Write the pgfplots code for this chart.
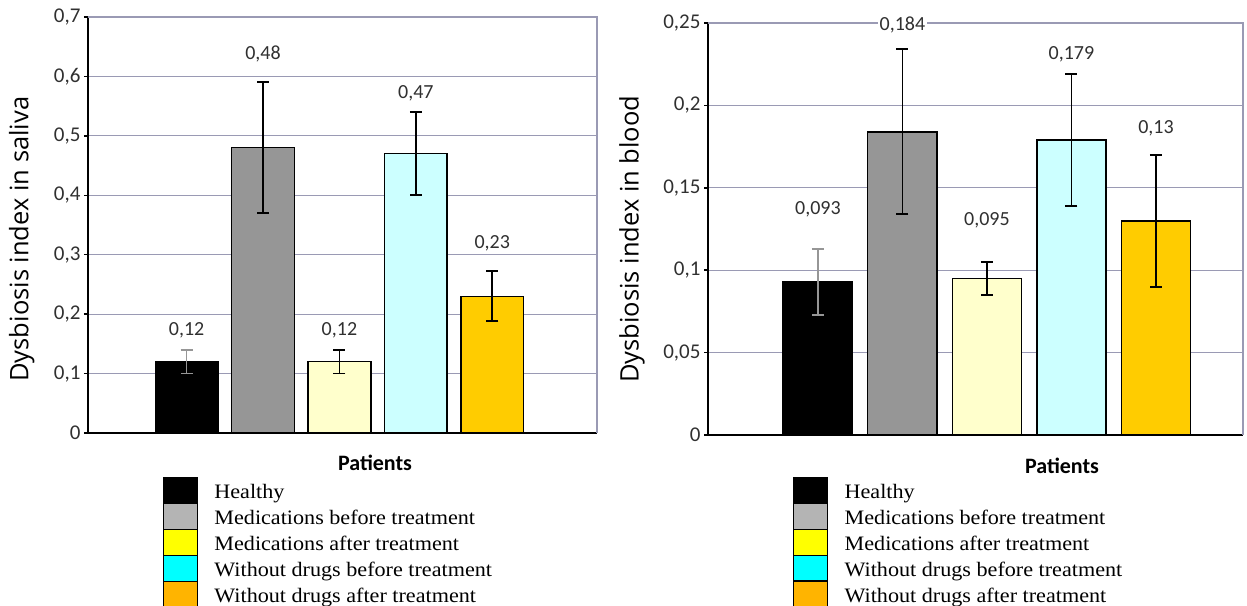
\documentclass[border=0pt]{standalone}
\usepackage{pgfplots}
\pgfplotsset{compat=1.18}
\usepackage{fontspec}
\setmainfont{Liberation Serif}
\newfontfamily\carlito{Carlito}
\newfontfamily\osans{Open Sans}
\newfontfamily\legfont[FakeStretch=1.08]{Liberation Serif}
\definecolor{gridc}{HTML}{9A9AB4}
\definecolor{txt}{HTML}{303030}
\definecolor{bgray}{HTML}{969696}
\definecolor{bcream}{HTML}{FFFFCC}
\definecolor{bcyan}{HTML}{CCFFFF}
\definecolor{borange}{HTML}{FFCC00}
\definecolor{lgray}{HTML}{B4B4B4}
\definecolor{lyellow}{HTML}{FFFF00}
\definecolor{lcyan}{HTML}{00FFFF}
\definecolor{lorange}{HTML}{FFB400}
\tikzset{vlab/.style={fill=white, inner sep=1.5pt, font=\carlito\fontsize{20}{24}\selectfont, text=txt}}
\pgfplotsset{
  mybar/.style={ybar, bar width=0.82, bar shift=0pt, draw=black, line width=1.5pt, forget plot,
    error bars/y dir=both, error bars/y explicit,
    error bars/error bar style={line width=1.8pt, black},
    error bars/error mark options={rotate=90, mark size=6pt, line width=1.8pt, black}},
  graybar/.style={error bars/error bar style={line width=1.8pt, bgray},
    error bars/error mark options={rotate=90, mark size=6pt, line width=1.8pt, bgray}},
  common/.style={scale only axis, axis x line*=bottom, axis y line*=left,
    axis line style={line width=2.5pt, black, -}, ymin=0, xtick=\empty,
    ymajorgrids, major grid style={gridc, line width=1.2pt},
    ytick style={black, line width=1.5pt}, major tick length=4pt, tick align=outside,
    yticklabel style={font=\carlito\fontsize{21}{25}\selectfont, text=txt},
    ylabel style={font=\osans\fontsize{25.5}{30}\selectfont, text=black},
    legend cell align=left,
    legend image code/.code={\fill[##1] (0pt,-10.75pt) rectangle (34pt,14.75pt);},
    clip=false},
  myleg/.style={legend style={at={#1}, anchor=north west, draw=none, fill=none,
    font=\legfont\fontsize{20.5}{25}\selectfont, row sep=0pt, column sep=17pt, inner sep=0pt,
    nodes={inner sep=0pt}}},
}
\begin{document}
\begin{tikzpicture}
\useasboundingbox (0,0) rectangle (1247pt,-605pt);
% ---------------- left: saliva
\begin{axis}[common, at={(88pt,-433pt)}, anchor=south west, width=509pt, height=416pt,
  xmin=-0.29, xmax=6.37, ymax=0.7,
  ytick={0,0.1,0.2,0.3,0.4,0.5,0.6,0.7},
  yticklabels={0,{0,1},{0,2},{0,3},{0,4},{0,5},{0,6},{0,7}},
  ylabel={Dysbiosis index in saliva},
  ylabel style={at={(axis description cs:-0.13,0.466)}, anchor=center, rotate=0},
  myleg={(0.147,-0.106)},
]
\addplot[mybar, graybar, fill=black] coordinates {(1,0.12) +- (0,0.02)};
\addplot[mybar, fill=bgray] coordinates {(2,0.48) +- (0,0.11)};
\addplot[mybar, fill=bcream] coordinates {(3,0.12) +- (0,0.02)};
\addplot[mybar, fill=bcyan] coordinates {(4,0.47) +- (0,0.07)};
\addplot[mybar, fill=borange] coordinates {(5,0.23) +- (0,0.042)};
\draw[gridc, line width=1.2pt] (rel axis cs:0,1) -- (rel axis cs:1,1) -- (rel axis cs:1,0);
\node[vlab] at (axis cs:1,0.172) {0,12};
\node[vlab] at (axis cs:2,0.637) {0,48};
\node[vlab] at (axis cs:3,0.172) {0,12};
\node[vlab] at (axis cs:4,0.572) {0,47};
\node[vlab] at (axis cs:5,0.319) {0,23};
\addlegendimage{fill=black}\addlegendentry{Healthy}
\addlegendimage{fill=lgray}\addlegendentry{Medications before treatment}
\addlegendimage{fill=lyellow}\addlegendentry{Medications after treatment}
\addlegendimage{fill=lcyan}\addlegendentry{Without drugs before treatment}
\addlegendimage{fill=lorange}\addlegendentry{Without drugs after treatment}
\end{axis}
\node[font=\carlito\bfseries\fontsize{22}{26}\selectfont] at (375pt,-463pt) {Patients};
% ---------------- right: blood
\begin{axis}[common, at={(708pt,-435pt)}, anchor=south west, width=535pt, height=412pt,
  xmin=-0.30, xmax=6.03, ymax=0.25,
  ytick={0,0.05,0.1,0.15,0.2,0.25},
  yticklabels={0,{0,05},{0,1},{0,15},{0,2},{0,25}},
  ylabel={Dysbiosis index in blood},
  ylabel style={at={(axis description cs:-0.142,0.475)}, anchor=center, rotate=0},
  myleg={(0.159,-0.102)},
]
\addplot[mybar, graybar, fill=black] coordinates {(1,0.093) +- (0,0.02)};
\addplot[mybar, fill=bgray] coordinates {(2,0.184) +- (0,0.05)};
\addplot[mybar, fill=bcream] coordinates {(3,0.095) +- (0,0.01)};
\addplot[mybar, fill=bcyan] coordinates {(4,0.179) +- (0,0.04)};
\addplot[mybar, fill=borange] coordinates {(5,0.13) +- (0,0.04)};
\draw[gridc, line width=1.2pt] (rel axis cs:0,1) -- (rel axis cs:1,1) -- (rel axis cs:1,0);
\node[vlab] at (axis cs:1,0.137) {0,093};
\node[vlab] at (axis cs:2,0.249) {0,184};
\node[vlab] at (axis cs:3,0.130) {0,095};
\node[vlab] at (axis cs:4,0.231) {0,179};
\node[vlab] at (axis cs:5,0.186) {0,13};
\addlegendimage{fill=black}\addlegendentry{Healthy}
\addlegendimage{fill=lgray}\addlegendentry{Medications before treatment}
\addlegendimage{fill=lyellow}\addlegendentry{Medications after treatment}
\addlegendimage{fill=lcyan}\addlegendentry{Without drugs before treatment}
\addlegendimage{fill=lorange}\addlegendentry{Without drugs after treatment}
\end{axis}
\node[font=\carlito\bfseries\fontsize{22}{26}\selectfont] at (1062pt,-466pt) {Patients};
\end{tikzpicture}
\end{document}
